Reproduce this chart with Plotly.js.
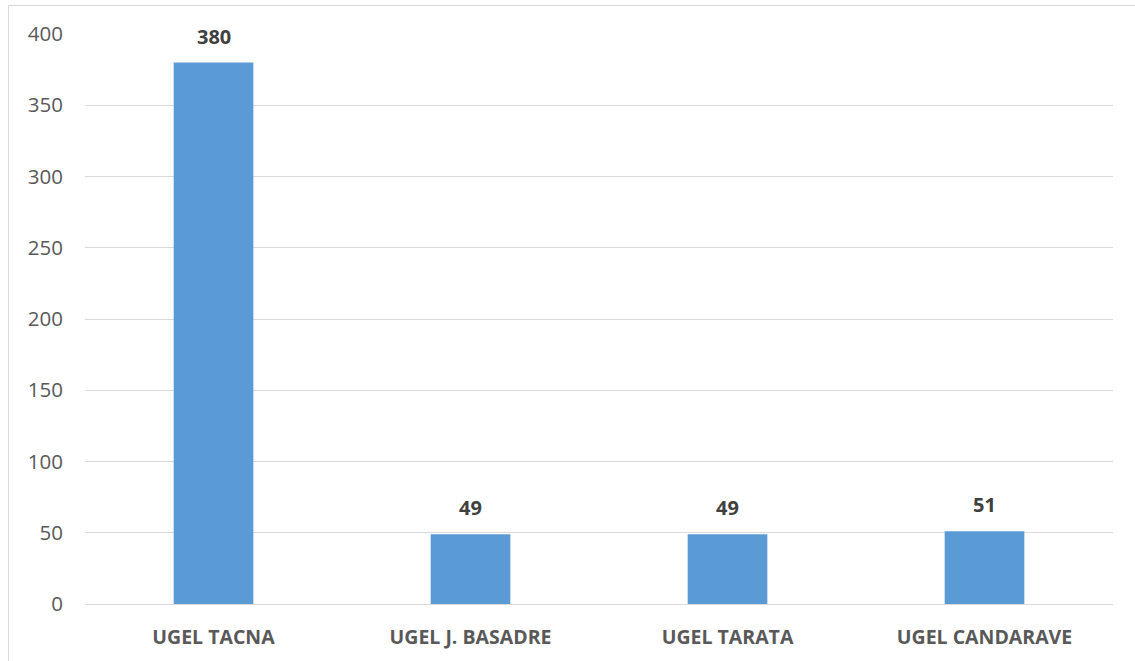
<!DOCTYPE html>
<html>
<head>
<meta charset="utf-8">
<script src="https://cdn.plot.ly/plotly-3.0.1.min.js"></script>
<style>
html,body{margin:0;padding:0;background:#fff;overflow:hidden;}
#wrap{position:absolute;left:8px;top:5px;width:1140px;height:670px;border:1px solid #d9d9d9;box-sizing:border-box;}
#chart{position:absolute;left:0;top:0;width:1126px;height:655px;}
</style>
</head>
<body>
<div id="wrap"><div id="chart"></div></div>
<script>
const categories = ["UGEL TACNA", "UGEL J. BASADRE", "UGEL TARATA", "UGEL CANDARAVE"];
const values = [380, 49, 49, 51];
const yTicks = [0, 50, 100, 150, 200, 250, 300, 350, 400];

const trace = {
  type: "bar",
  x: categories,
  y: values,
  marker: {color: "#5b9bd5"},
  hoverinfo: "x+y"
};

const annotations = categories.map((c, i) => ({
  x: c, y: values[i], xref: "x", yref: "y",
  text: "<b>" + values[i] + "</b>",
  showarrow: false, yanchor: "bottom", yshift: 11,
  font: {family: "Open Sans, Liberation Sans, sans-serif", size: 20, color: "#404040"}
}));

const layout = {
  width: 1126, height: 655,
  margin: {l: 76, r: 22, t: 28, b: 57},
  paper_bgcolor: "rgba(0,0,0,0)",
  plot_bgcolor: "#fff",
  bargap: 0.69,
  showlegend: false,
  xaxis: {
    type: "category",
    showgrid: false,
    showline: true, linecolor: "#d9d9d9", linewidth: 1,
    ticks: "",
    ticklabelstandoff: 16,
    tickfont: {family: "Open Sans, Liberation Sans, sans-serif", size: 19.5, color: "#595959", weight: "bold"},
    tickprefix: "<b>", ticksuffix: "</b>"
  },
  yaxis: {
    range: [0, 400],
    tickvals: yTicks,
    ticktext: yTicks.map(String),
    showgrid: true, gridcolor: "#d9d9d9", gridwidth: 1,
    zeroline: false,
    showline: false,
    ticks: "",
    ticklabelstandoff: 21,
    tickfont: {family: "Open Sans, Liberation Sans, sans-serif", size: 20.5, color: "#595959"}
  },
  annotations: annotations
};

Plotly.newPlot("chart", [trace], layout, {displayModeBar: false, staticPlot: true});
</script>
</body>
</html>
